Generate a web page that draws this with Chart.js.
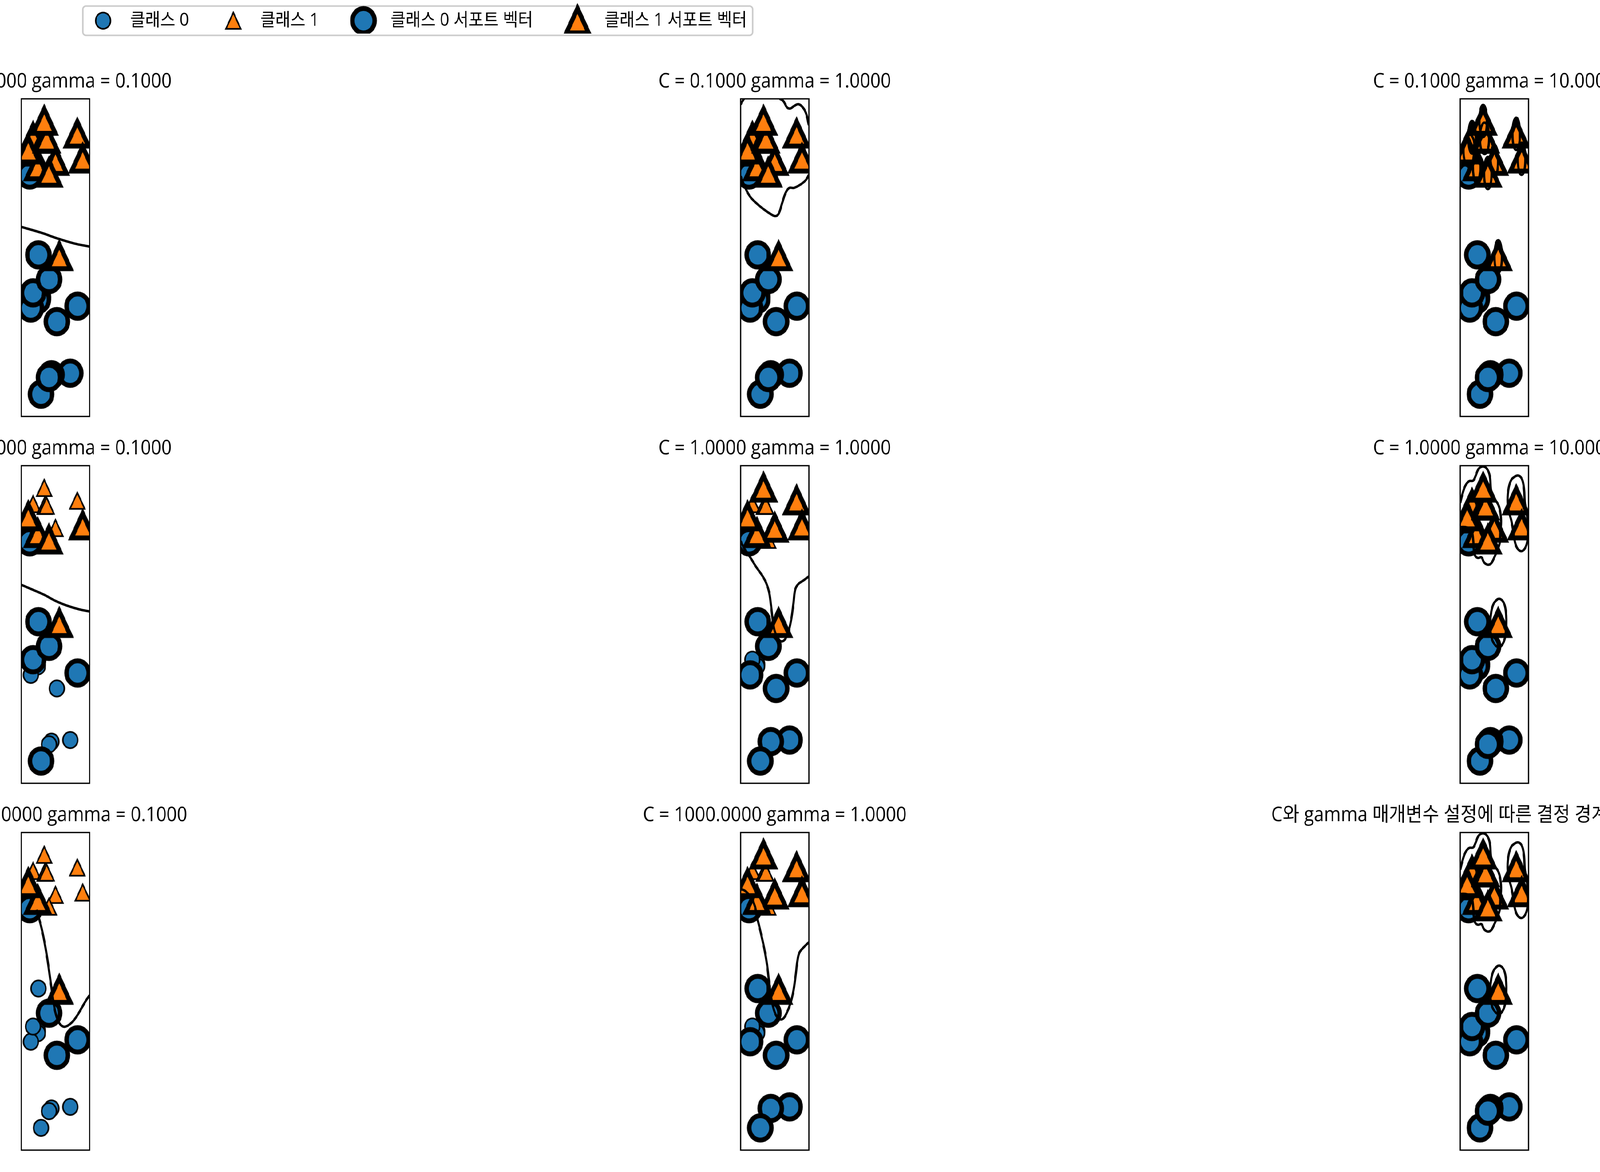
<!DOCTYPE html>
<html><head><meta charset="utf-8">
<script src="https://cdn.jsdelivr.net/npm/chart.js@4.4.1/dist/chart.umd.min.js"></script>
<style>
html,body{margin:0;padding:0;overflow:hidden;background:#fff;}
#wrap{position:relative;overflow:hidden;background:#fff;}
#stage{position:absolute;left:0;top:0;width:4500px;height:3000px;transform-origin:0 0;overflow:hidden;background:#fff;}
#stage canvas{position:absolute;}
</style></head><body>
<div id="wrap"><div id="stage"></div></div>
<script>
// ---------------- data ----------------
const x1 = [9.963, 11.033, 11.542, 8.693, 8.106, 8.310, 11.930, 9.673, 8.348, 8.675, 9.177, 10.240, 8.689, 8.922, 9.491, 9.257, 7.998, 8.184, 8.734, 9.323, 10.064, 9.500, 8.345, 9.502, 9.151, 11.564];
const x2 = [4.597, -0.168, 5.211, 1.543, 4.287, 4.806, 4.649, -0.203, 5.134, 4.476, 5.093, 2.455, 1.487, -0.640, 4.332, 5.133, 4.853, 1.296, 2.492, 5.098, 0.991, -0.264, 1.638, 1.938, 5.498, 1.339];
const yLabel = [1, 0, 1, 0, 0, 1, 1, 0, 1, 1, 1, 1, 0, 0, 1, 1, 1, 0, 0, 1, 0, 0, 0, 0, 1, 0];
const Cvalues = [0.1, 1, 1000];
const gammaValues = [0.1, 1, 10];
const xRange = [7.498, 12.430];
const yRange = [-1.140, 5.998];
const legendLabels = ["클래스 0", "클래스 1", "클래스 0 서포트 벡터", "클래스 1 서포트 벡터"];
const lastTitle = "C와 gamma 매개변수 설정에 따른 결정 경계와 서포트 벡터";

// support vector indices per panel
const sv_all = [0,1,2,3,4,5,6,7,8,9,10,11,12,13,14,15,16,17,18,19,20,21,22,23,24,25];
const sv_C1_g01 = [4,6,9,11,13,14,16,18,22,23,25];
const sv_C1_g1 = [0,1,2,4,6,7,9,11,13,16,17,18,20,23,24,25];
const sv_C1000_g01 = [4,9,11,16,20,23,25];
const sv_C1000_g1 = [0,1,2,4,6,7,9,11,13,16,17,18,20,23,24,25];

// decision boundary (level 0) curves
const lines_C01_g01 = [
  [[7.498,3.12],[8.92,2.99],[10.11,2.86],[11.29,2.75],[12.43,2.677]]
];
const lines_C01_g1 = [
  [[7.498,5.87],[7.62,5.94],[7.74,5.998]],
  [[10.33,5.998],[10.59,5.947],[10.85,5.805],[11.10,5.781],[11.36,5.838],[11.70,5.876],[12.05,5.781],[12.26,5.64],[12.39,5.451],[12.43,5.404]],
  [[7.498,4.26],[7.85,3.987],[8.19,3.798],[8.62,3.657],[9.13,3.524],[9.73,3.397],[10.03,3.364],[10.25,3.42],[10.50,3.657],[10.76,3.893],[11.02,3.997],[11.36,3.997],[11.87,4.082],[12.22,4.176],[12.43,4.294]]
];
const loops_C01_g10 = [
  [[9.42,5.50],[9.37,5.72],[9.23,5.85],[9.07,5.85],[8.93,5.72],[8.88,5.50],[8.93,5.28],[9.07,5.15],[9.23,5.15],[9.37,5.28]],
  [[9.58,5.11],[9.52,5.32],[9.35,5.45],[9.15,5.45],[8.98,5.32],[8.92,5.11],[8.98,4.90],[9.15,4.77],[9.35,4.77],[9.52,4.90]],
  [[8.62,5.13],[8.57,5.35],[8.43,5.49],[8.27,5.49],[8.13,5.35],[8.08,5.13],[8.13,4.92],[8.27,4.78],[8.43,4.78],[8.57,4.92]],
  [[8.57,4.83],[8.49,5.05],[8.28,5.18],[8.02,5.18],[7.81,5.05],[7.73,4.83],[7.81,4.61],[8.02,4.48],[8.28,4.48],[8.49,4.61]],
  [[8.95,4.48],[8.89,4.69],[8.76,4.83],[8.59,4.83],[8.46,4.69],[8.41,4.48],[8.46,4.26],[8.59,4.12],[8.76,4.12],[8.89,4.26]],
  [[9.76,4.33],[9.71,4.55],[9.57,4.68],[9.41,4.68],[9.27,4.55],[9.22,4.33],[9.27,4.11],[9.41,3.98],[9.57,3.98],[9.71,4.11]],
  [[10.23,4.60],[10.18,4.82],[10.05,4.95],[9.88,4.95],[9.75,4.82],[9.69,4.60],[9.75,4.38],[9.88,4.25],[10.05,4.25],[10.18,4.38]],
  [[11.81,5.21],[11.76,5.43],[11.63,5.56],[11.46,5.56],[11.32,5.43],[11.27,5.21],[11.32,4.99],[11.46,4.86],[11.63,4.86],[11.76,4.99]],
  [[12.20,4.65],[12.15,4.87],[12.01,5.00],[11.85,5.00],[11.71,4.87],[11.66,4.65],[11.71,4.43],[11.85,4.30],[12.01,4.30],[12.15,4.43]],
  [[10.51,2.46],[10.46,2.67],[10.32,2.81],[10.16,2.81],[10.02,2.67],[9.97,2.46],[10.02,2.24],[10.16,2.10],[10.32,2.10],[10.46,2.24]]
];
const lines_C1_g01 = [
  [[7.498,3.32],[8.27,3.217],[9.13,3.099],[9.98,2.957],[10.84,2.848],[11.69,2.768],[12.43,2.721]]
];
const lines_C1_g1 = [
  [[7.498,4.303],[7.763,4.138],[8.191,3.939],[8.620,3.722],[9.048,3.533],[9.347,3.359],[9.561,3.146],[9.690,2.863],[9.818,2.532],[9.947,2.296],[10.161,2.131],[10.418,2.051],[10.675,2.084],[10.932,2.249],[11.146,2.532],[11.317,2.910],[11.445,3.217],[11.659,3.335],[12.045,3.420],[12.387,3.500],[12.43,3.510]]
];
const lines_g10 = [
  [[7.498,5.16],[7.661,5.366],[7.875,5.554],[8.132,5.649],[8.432,5.663],[8.603,5.767],[8.817,5.923],[9.117,5.979],[9.416,5.932],[9.630,5.767],[9.716,5.46],[9.887,5.247],[10.144,5.177],[10.341,5.035],[10.444,4.775],[10.401,4.516],[10.358,4.28],[10.23,4.138],[9.973,3.949],[9.716,3.798],[9.459,3.774],[9.202,3.831],[9.031,3.939],[8.774,3.925],[8.577,3.972],[8.474,4.114],[8.432,4.327],[8.303,4.539],[7.961,4.61],[7.498,4.62]]
];
const loops_g10 = [
  [[10.23,3.004],[9.93,2.91],[9.742,2.721],[9.656,2.438],[9.716,2.202],[9.93,2.003],[10.315,1.918],[10.632,2.036],[10.786,2.249],[10.829,2.532],[10.744,2.816],[10.53,2.967]],
  [[11.514,5.767],[11.215,5.696],[11.0,5.507],[10.915,5.224],[11.0,4.988],[11.197,4.752],[11.343,4.492],[11.471,4.256],[11.686,4.114],[11.985,4.081],[12.242,4.185],[12.379,4.374],[12.41,4.563],[12.33,4.846],[12.16,5.177],[12.11,5.46],[11.985,5.672],[11.771,5.767]]
];
const lines_C1000_g01 = [
  [[8.611,4.265],[8.739,4.109],[8.911,3.911],[9.082,3.675],[9.253,3.391],[9.424,3.061],[9.553,2.777],[9.681,2.494],[9.810,2.211],[9.981,1.927],[10.238,1.715],[10.538,1.635],[10.837,1.654],[11.180,1.739],[11.522,1.880],[11.865,2.060],[12.165,2.220],[12.43,2.343]]
];
const lines_C1000_g1 = [
  [[7.498,4.723],[7.763,4.699],[8.020,4.628],[8.320,4.501],[8.534,4.336],[8.662,4.123],[8.791,3.958],[9.005,3.675],[9.219,3.368],[9.390,3.061],[9.519,2.730],[9.647,2.400],[9.818,2.116],[10.033,1.904],[10.289,1.809],[10.546,1.809],[10.803,1.927],[11.103,2.164],[11.317,2.447],[11.488,2.825],[11.600,3.108],[11.745,3.297],[12.045,3.415],[12.43,3.533]]
];

// ---------------- styles / layout ----------------
// The figure is laid out on a 4500x3000 stage, then fitted to the actual viewport.
const stage = document.getElementById('stage');
const wrap = document.getElementById('wrap');
const sx = window.innerWidth / 4500, sy = window.innerHeight / 3000;
stage.style.transform = 'scale(' + sx + ',' + sy + ')';
wrap.style.width = window.innerWidth + 'px';
wrap.style.height = window.innerHeight + 'px';

const FONT = "'Open Sans', 'Noto Sans CJK KR', sans-serif";
const BLUE = '#1f77b4', ORANGE = '#ff7f0e';
const colLeft = [60, 2083, 4107];
const rowTop = [253, 1192, 2131];
const AX_W = 192, AX_H = 814;
const SIDE = 704, CAN_W = AX_W + 2 * SIDE, PAD_T = 10, TITLE_H = 74, PAD_B = 20;
const TITLE_FS = 51;
const CAN_H = PAD_T + TITLE_H + AX_H + PAD_B;

function makeMarker(shape, size, edge, fill) {
  let dim = Math.ceil(size + edge * 4 + 10); if (dim % 2) dim++;
  const c = document.createElement('canvas');
  c.width = dim; c.height = dim;
  const ctx = c.getContext('2d');
  const m = dim / 2, h = size / 2;
  ctx.beginPath();
  if (shape === 'circle') ctx.arc(m, m, h, 0, Math.PI * 2);
  else { ctx.moveTo(m, m - h); ctx.lineTo(m - h, m + h); ctx.lineTo(m + h, m + h); ctx.closePath(); }
  ctx.fillStyle = fill; ctx.fill();
  ctx.lineWidth = edge; ctx.strokeStyle = '#000'; ctx.lineJoin = 'miter'; ctx.miterLimit = 10;
  ctx.stroke();
  return c;
}
const PT = 300 / 72;
const mSmall0 = makeMarker('circle', 10 * PT, 1 * PT, BLUE);
const mSmall1 = makeMarker('triangle', 10 * PT, 1 * PT, ORANGE);
const mBig0 = makeMarker('circle', 15 * PT, 3 * PT, BLUE);
const mBig1 = makeMarker('triangle', 15 * PT, 3 * PT, ORANGE);

const spinePlugin = {
  id: 'spine',
  afterDraw(chart) {
    const a = chart.chartArea, ctx = chart.ctx;
    ctx.save(); ctx.lineWidth = 0.8 * PT; ctx.strokeStyle = '#000';
    ctx.strokeRect(a.left, a.top, a.right - a.left, a.bottom - a.top);
    ctx.restore();
  }
};

function mkCanvas(left, top, w, h) {
  const c = document.createElement('canvas');
  c.width = w; c.height = h;
  c.style.left = left + 'px'; c.style.top = top + 'px';
  c.style.width = w + 'px'; c.style.height = h + 'px';
  stage.appendChild(c);
  return c;
}

function pts(idx, cls) {
  return idx.filter(i => yLabel[i] === cls).map(i => ({x: x1[i], y: x2[i]}));
}
function lineDs(p) {
  return {data: p.map(q => ({x: q[0], y: q[1]})), showLine: true, pointRadius: 0, borderColor: '#000',
    borderWidth: 1.5 * PT, tension: 0.4, fill: false, clip: 0, order: 0, borderJoinStyle: 'round'};
}

const panelSV = [[sv_all, sv_all, sv_all], [sv_C1_g01, sv_C1_g1, sv_all], [sv_C1000_g01, sv_C1000_g1, sv_all]];
const panelLines = [[lines_C01_g01, lines_C01_g1, []], [lines_C1_g01, lines_C1_g1, lines_g10], [lines_C1000_g01, lines_C1000_g1, lines_g10]];
const panelLoops = [[[], [], loops_C01_g10], [[], [], loops_g10], [[], [], loops_g10]];

for (let r = 0; r < 3; r++) {
  for (let c = 0; c < 3; c++) {
    const cv = mkCanvas(colLeft[c] - SIDE, rowTop[r] - PAD_T - TITLE_H, CAN_W, CAN_H);
    const svs = panelSV[r][c];
    const datasets = [
      {data: pts(sv_all, 0), pointStyle: mSmall0, pointRadius: 20, clip: 0, order: 4},
      {data: pts(sv_all, 1), pointStyle: mSmall1, pointRadius: 20, clip: 0, order: 3},
      {data: pts(svs, 0), pointStyle: mBig0, pointRadius: 20, clip: 0, order: 2},
      {data: pts(svs, 1), pointStyle: mBig1, pointRadius: 20, clip: 0, order: 1}
    ];
    panelLines[r][c].forEach(l => datasets.push(lineDs(l)));
    panelLoops[r][c].forEach(l => datasets.push(lineDs([...l, l[0], l[1]])));
    const title = (r === 2 && c === 2) ? lastTitle :
      `C = ${Cvalues[r].toFixed(4)} gamma = ${gammaValues[c].toFixed(4)}`;
    new Chart(cv, {
      type: 'scatter',
      data: {datasets},
      options: {
        responsive: false, animation: false, devicePixelRatio: 1, events: [],
        layout: {padding: {left: 0, right: 0, top: PAD_T, bottom: PAD_B}},
        plugins: {
          legend: {display: false}, tooltip: {enabled: false},
          title: {display: true, text: title, color: '#000',
            font: {family: FONT, size: TITLE_FS, weight: 'normal', lineHeight: 1.2},
            padding: {top: 0, bottom: TITLE_H - TITLE_FS * 1.2}}
        },
        scales: {
          x: {type: 'linear', display: false, min: xRange[0], max: xRange[1]},
          y: {type: 'linear', display: true, position: 'left', min: yRange[0], max: yRange[1],
            ticks: {display: false}, grid: {display: false, drawTicks: false}, border: {display: false},
            afterFit(s) { s.width = SIDE; }},
          y2: {type: 'linear', display: true, position: 'right', min: 0, max: 1,
            ticks: {display: false}, grid: {display: false, drawTicks: false}, border: {display: false},
            afterFit(s) { s.width = SIDE; }}
        }
      },
      plugins: [spinePlugin]
    });
  }
}

// ---------------- legend ----------------
const LEG_FS = 46, LEG_PAD = 72, LEG_BOXW = 106;
const legendFrame = {
  id: 'legendFrame',
  beforeDraw(chart) {
    const hb = chart.legend && chart.legend.legendHitBoxes;
    if (!hb || !hb.length) return;
    const ctx = chart.ctx;
    const left = hb[0].left - 4;
    const last = hb[hb.length - 1];
    const right = last.left + last.width + 16;
    const cy = hb[0].top + LEG_FS / 2;
    ctx.save();
    ctx.beginPath();
    ctx.roundRect(left, cy - 37.5, right - left, 75, 8.3);
    ctx.fillStyle = 'rgba(255,255,255,0.8)'; ctx.fill();
    ctx.lineWidth = 1 * PT; ctx.strokeStyle = '#cccccc'; ctx.stroke();
    ctx.restore();
  }
};
const legCv = mkCanvas(237 - LEG_PAD, Math.round(52.5 - LEG_PAD - LEG_FS / 2), 2400, 300);
const legMarkers = [mSmall0, mSmall1, mBig0, mBig1];
new Chart(legCv, {
  type: 'scatter',
  data: {datasets: legendLabels.map((lab, i) => ({label: lab, data: [{x: -10, y: -10}], pointStyle: legMarkers[i], pointRadius: 20}))},
  options: {
    responsive: false, animation: false, devicePixelRatio: 1, events: [],
    layout: {padding: 0},
    scales: {x: {display: false, min: 0, max: 1}, y: {display: false, min: 0, max: 1}},
    plugins: {
      tooltip: {enabled: false},
      legend: {display: true, position: 'top', align: 'start',
        labels: {usePointStyle: true, pointStyleWidth: LEG_BOXW, padding: LEG_PAD, color: '#000',
          font: {family: FONT, size: LEG_FS, weight: 'normal'}}}
    }
  },
  plugins: [legendFrame]
});
</script>
</body></html>
